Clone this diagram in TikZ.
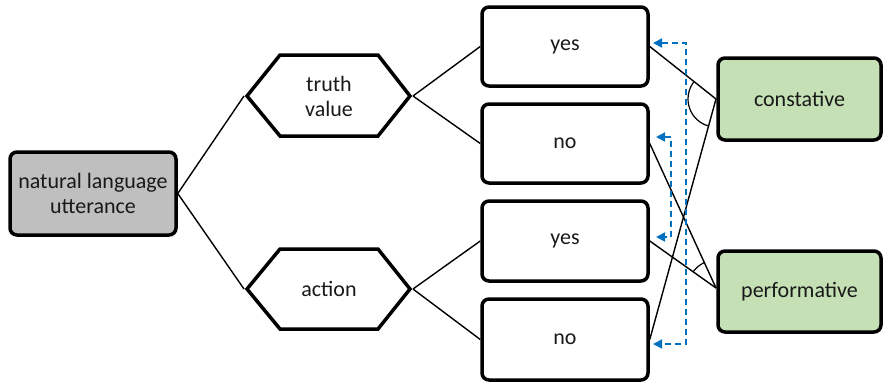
\documentclass[tikz,border=0pt]{standalone}
\usepackage{fontspec}
\setmainfont{Carlito}
\usetikzlibrary{arrows.meta}
\definecolor{boxgray}{HTML}{BFBFBF}
\definecolor{boxgreen}{HTML}{C5E0B4}
\definecolor{dashblue}{HTML}{0070C0}
\tikzset{
  box/.style={draw=black, line width=3.5pt, rounded corners=7pt, minimum width=166pt, minimum height=80pt, align=center, font=\fontsize{22}{25}\selectfont, text=black!90},
  hexa/.style={draw=black, line width=3.5pt, line join=miter},
  conn/.style={draw=black, line width=1.4pt},
  bluedash/.style={draw=dashblue, line width=1.8pt, dash pattern=on 6pt off 4pt, {Triangle[length=9pt,width=9pt]}-{Triangle[length=9pt,width=9pt]}},
  lbl/.style={align=center, font=\fontsize{22}{25}\selectfont, text=black!90}
}
\begin{document}
\begin{tikzpicture}[x=1pt,y=-1pt]
\useasboundingbox (0,0) rectangle (884,386);
% boxes
\node[box, fill=boxgray, minimum height=83pt] (nlu) at (93,193.5) {natural language\\utterance};
\node[box, minimum height=79pt] (yes1) at (565,46.5) {yes};
\node[box, minimum height=79pt] (no1) at (565,143.5) {no};
\node[box] (yes2) at (565,241) {yes};
\node[box, minimum height=81pt] (no2) at (565,339.5) {no};
\node[box, fill=boxgreen, minimum width=163pt, minimum height=82pt] (con) at (799.5,99) {constative};
\node[box, fill=boxgreen, minimum width=163pt, minimum height=81pt] (perf) at (799.5,291.5) {performative};
% hexagons
\draw[hexa] (247,96) -- (280,55) -- (378,55) -- (410,96) -- (378,136) -- (280,136) -- cycle;
\node[lbl] (tv) at (329,96) {truth\\value};
\coordinate (tvL) at (244,96);
\coordinate (tvR) at (413,96);
\draw[hexa] (247,289) -- (280,249) -- (378,249) -- (410,289) -- (378,329) -- (280,329) -- cycle;
\node[lbl] (act) at (329,289) {action};
\coordinate (acL) at (244,289);
\coordinate (acR) at (413,289);
% connectors
\draw[conn] (nlu.east) -- (tvL);
\draw[conn] (nlu.east) -- (acL);
\draw[conn] (tvR) -- (yes1.west);
\draw[conn] (tvR) -- (no1.west);
\draw[conn] (acR) -- (yes2.west);
\draw[conn] (acR) -- (no2.west);
\coordinate (cw) at (716,99);
\coordinate (pw) at (716,288);
\draw[conn] (yes1.east) -- (cw);
\draw[conn] (no2.east) -- (cw);
\draw[conn] (no1.east) -- (pw);
\draw[conn] (yes2.east) -- (pw);
% angle arcs
\draw[line width=1.2pt] ([shift={(-141.2:28)}]cw) arc[start angle=-141.2, end angle=-254.5, radius=28];
\draw[line width=1.2pt] ([shift={(-114.6:28)}]pw) arc[start angle=-114.6, end angle=-143.4, radius=28];
% blue dashed arrows
\coordinate (t1) at (653,43);
\coordinate (t2) at (653,344);
\coordinate (t3) at (656,137);
\coordinate (t4) at (656,237);
\draw[bluedash] (t1) -- (686,43) -- (686,344) -- (t2);
\draw[bluedash] (t3) -- (671,137) -- (671,237) -- (t4);
\end{tikzpicture}
\end{document}
